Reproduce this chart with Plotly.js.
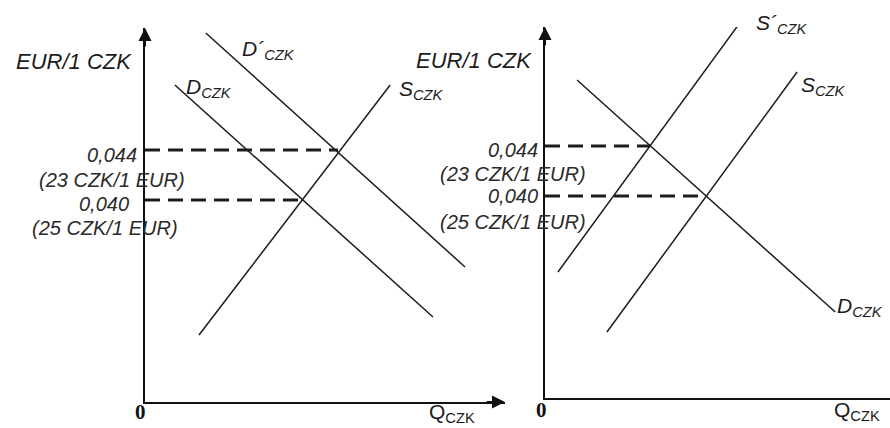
<!DOCTYPE html>
<html>
<head>
<meta charset="utf-8">
<script src="https://cdn.plot.ly/plotly-3.0.1.min.js"></script>
<style>
  body { margin: 0; background: #fff; }
  #chart { width: 890px; height: 428px; }
</style>
</head>
<body>
<div id="chart"></div>
<script>
// left panel: demand for CZK rises (D -> D')
const leftS_q = [1.5, 6.81];
const leftS_p = [0.0292, 0.0492];
const leftD_q = [0.83, 8.0];
const leftD_p = [0.0492, 0.03064];
const leftD2_q = [1.69, 8.89];
const leftD2_p = [0.05336, 0.03464];
const leftEq_q = [4.36, 5.36];   // where the dashed lines end
const leftEq_p = [0.040, 0.044];

// right panel: supply of CZK falls (S -> S')
const rightS_q = [1.72, 7.0];
const rightS_p = [0.02912, 0.04992];
const rightS2_q = [0.36, 5.61];
const rightS2_p = [0.03392, 0.05464];
const rightD_q = [0.89, 8.06];
const rightD_p = [0.04928, 0.03072];
const rightEq_q = [4.47, 2.92];
const rightEq_p = [0.040, 0.044];

const priceLabels = ['0,040', '0,044'];
const rateLabels = ['(25 CZK/1 EUR)', '(23 CZK/1 EUR)'];

const W = 890, H = 428;
const px = v => v / W;
const py = v => 1 - v / H;

const lineStyle = {color: '#1c1c1c', width: 1.5};
const dashStyle = {color: '#1c1c1c', width: 3, dash: '15px,8px'};

function curve(q, p, xa, ya, style) {
  return {x: q, y: p, xaxis: xa, yaxis: ya, type: 'scatter', mode: 'lines',
          line: style, hoverinfo: 'skip', showlegend: false};
}

const data = [
  curve(leftS_q, leftS_p, 'x', 'y', lineStyle),
  curve(leftD_q, leftD_p, 'x', 'y', lineStyle),
  curve(leftD2_q, leftD2_p, 'x', 'y', lineStyle),
  curve(rightS_q, rightS_p, 'x2', 'y2', lineStyle),
  curve(rightS2_q, rightS2_p, 'x2', 'y2', lineStyle),
  curve(rightD_q, rightD_p, 'x2', 'y2', lineStyle)
];
// dashed guides from the price axis to each equilibrium
leftEq_q.forEach((q, i) => data.push(curve([0, q], [leftEq_p[i], leftEq_p[i]], 'x', 'y', dashStyle)));
rightEq_q.forEach((q, i) => data.push(curve([0, q], [rightEq_p[i], rightEq_p[i]], 'x2', 'y2', dashStyle)));

const axisBase = {showgrid: false, zeroline: false, showticklabels: false, ticks: '',
                  showline: true, linecolor: '#111', linewidth: 2, fixedrange: true};

const sans = '"Liberation Sans", Arial, sans-serif';
const italic = {family: sans, size: 20, color: '#2a2a2a', style: 'italic'};
const labelFont = {family: sans, size: 21, color: '#1c1c1c', style: 'italic'};
const titleFont = {family: sans, size: 22, color: '#1c1c1c', style: 'italic'};
const zeroFont = {family: '"Liberation Serif", serif', size: 21, color: '#111'};
const qFont = {family: sans, size: 21, color: '#1c1c1c'};

function txt(text, x, y, xanchor, font) {
  return {text: text, x: px(x), y: py(y), xref: 'paper', yref: 'paper',
          xanchor: xanchor || 'center', yanchor: 'middle', showarrow: false, font: font || italic};
}
function arrow(xa, ya, x, y, ax, ay) {
  return {text: '', x: x, y: y, xref: xa, yref: ya, ax: ax, ay: ay, showarrow: true,
          arrowhead: 2, arrowsize: 1.3, arrowwidth: 2, arrowcolor: '#111'};
}

const annotations = [
  // axis arrowheads
  arrow('x', 'y', 0, 0.05376, 0, 20),
  arrow('x', 'y', 10, 0.02384, -20, 0),
  arrow('x2', 'y2', 0, 0.05352, 0, 20),
  // axis titles
  txt('EUR/1 CZK', 74, 62, 'center', titleFont),
  txt('EUR/1 CZK', 474, 60, 'center', titleFont),
  txt('<b>0</b>', 140, 412, 'center', zeroFont),
  txt('<b>0</b>', 541, 410, 'center', zeroFont),
  txt('Q<sub>CZK</sub>', 452, 413, 'center', qFont),
  txt('Q<sub>CZK</sub>', 857, 411, 'center', qFont),
  // price levels, left
  txt(priceLabels[1], 139, 155, 'right'),
  txt(rateLabels[1], 112, 180),
  txt(priceLabels[0], 131, 204, 'right'),
  txt(rateLabels[0], 105, 228),
  // price levels, right
  txt(priceLabels[1], 540, 150, 'right'),
  txt(rateLabels[1], 513, 174),
  txt(priceLabels[0], 540, 196, 'right'),
  txt(rateLabels[0], 513, 222),
  // curve names
  txt('D´<sub>CZK</sub>', 268, 50, 'center', labelFont),
  txt('D<sub>CZK</sub>', 209, 88, 'center', labelFont),
  txt('S<sub>CZK</sub>', 421, 90, 'center', labelFont),
  txt('S´<sub>CZK</sub>', 782, 24, 'center', labelFont),
  txt('S<sub>CZK</sub>', 823, 86, 'center', labelFont),
  txt('D<sub>CZK</sub>', 860, 307, 'center', labelFont)
];

const layout = {
  width: W, height: H,
  margin: {l: 0, r: 0, t: 0, b: 0},
  paper_bgcolor: '#fff', plot_bgcolor: 'rgba(0,0,0,0)',
  showlegend: false,
  xaxis: {...axisBase, domain: [px(145), px(505)], range: [0, 10], anchor: 'y'},
  yaxis: {...axisBase, domain: [py(402), py(28)], range: [0.02384, 0.05376], anchor: 'x'},
  xaxis2: {...axisBase, domain: [px(545), 1], range: [0, 9.58], anchor: 'y2'},
  yaxis2: {...axisBase, domain: [py(398), py(27)], range: [0.02384, 0.05352], anchor: 'x2'},
  annotations: annotations
};

Plotly.newPlot('chart', data, layout, {displayModeBar: false, staticPlot: true});
</script>
</body>
</html>
